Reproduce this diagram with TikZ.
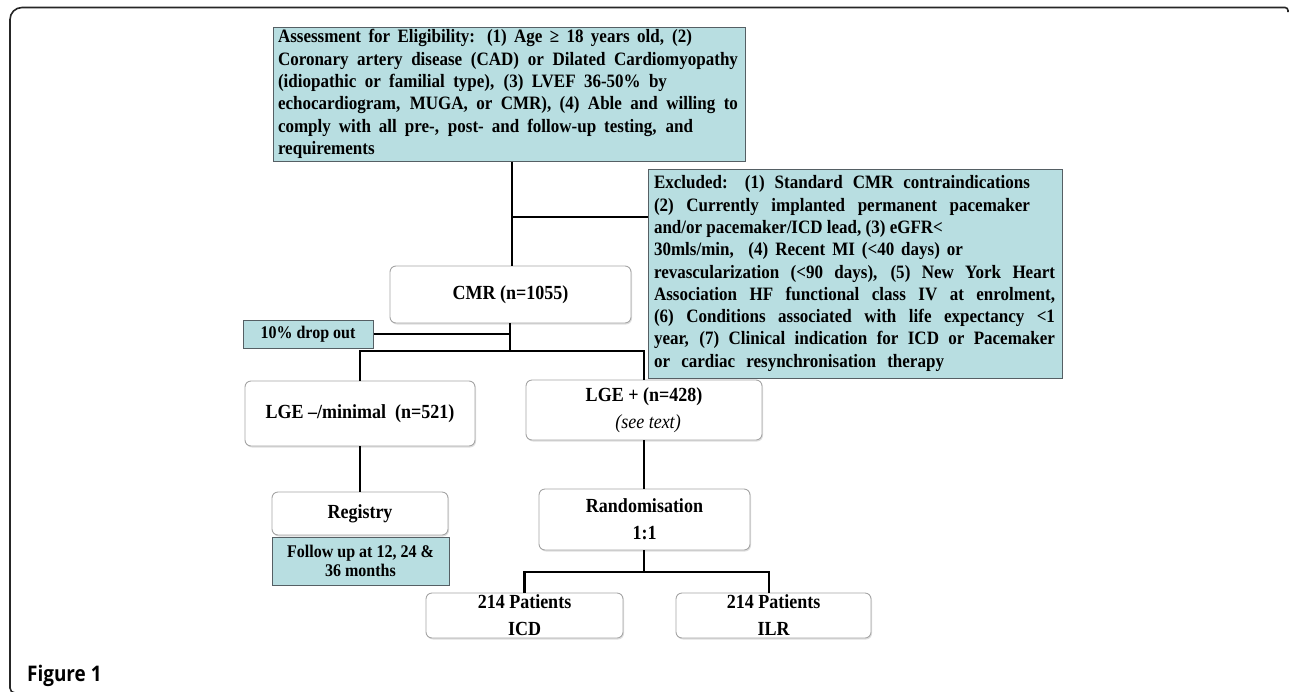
\documentclass[tikz,border=0pt]{standalone}
\usepackage{fontspec}
\setmainfont{Liberation Serif}[FakeStretch=0.9]
\newfontfamily\figfont{Open Sans}[FakeStretch=0.88]
\usetikzlibrary{shadows}
\definecolor{boxblue}{RGB}{184,222,225}
\definecolor{boxline}{RGB}{85,95,100}
\definecolor{wline}{RGB}{165,165,165}
\begin{document}
\begin{tikzpicture}[x=1pt,y=-1pt,
  bluebox/.style={draw=boxline, fill=boxblue, line width=1pt, inner sep=0pt,
    font=\bfseries\fontsize{18.9}{22.3}\selectfont},
  smallblue/.style={draw=boxline, fill=boxblue, line width=1pt, inner sep=0pt, align=center,
    font=\bfseries\fontsize{17.8}{19}\selectfont},
  whitebox/.style={draw=wline, fill=white, rounded corners=6pt, line width=0.9pt, inner sep=0pt,
    align=center, font=\bfseries\fontsize{20}{27}\selectfont,
    drop shadow={opacity=0.25, shadow xshift=1pt, shadow yshift=-1.5pt}},
  conn/.style={line width=2.6pt, black},
  frame/.style={line width=1.6pt, black!85}]
\useasboundingbox (0,0) rectangle (1290,691);

% outer frame
\draw[frame] (1288,12) [rounded corners=3pt] -- (1288,7.5) [rounded corners=12pt] -- (10,7.5) [rounded corners=5pt] -- (10,693) -- (22,693);

% boxes
\node[bluebox, minimum width=472pt, minimum height=134pt, text width=462pt, align=justify] (assess) at (509,94) {%
\makebox[414pt][s]{Assessment for Eligibility: (1) Age ≥ 18 years old, (2)}\\
\makebox[460pt][s]{Coronary artery disease (CAD) or Dilated Cardiomyopathy}\\
\makebox[389pt][s]{(idiopathic or familial type), (3) LVEF 36-50\% by}\\
\makebox[460pt][s]{echocardiogram, MUGA, or CMR), (4) Able and willing to}\\
\makebox[415pt][s]{comply with all pre-, post- and follow-up testing, and}\\
requirements};

\node[bluebox, minimum width=414pt, minimum height=209pt, text width=402pt, align=justify] (excl) at (855,273.5) {%
\makebox[376pt][s]{Excluded: (1) Standard CMR contraindications}\\
\makebox[376pt][s]{(2) Currently implanted permanent pacemaker}\\
and/or pacemaker/ICD lead, (3) eGFR<\\
\makebox[309pt][s]{30mls/min, \ (4) Recent MI (<40 days) or}\\
\makebox[401pt][s]{revascularization (<90 days), (5) New York Heart}\\
\makebox[401pt][s]{Association HF functional class IV at enrolment,}\\
\makebox[401pt][s]{(6) Conditions associated with life expectancy <1}\\
\makebox[401pt][s]{year, (7) Clinical indication for ICD or Pacemaker}\\
\makebox[290pt][s]{or cardiac resynchronisation therapy}};

\node[whitebox, minimum width=241pt, minimum height=57pt] (cmr) at (510.5,294.5) {CMR (n=1055)};
\node[smallblue, minimum width=130pt, minimum height=28pt] (drop) at (308,334) {10\% drop out};
\node[whitebox, minimum width=230pt, minimum height=65pt] (lgem) at (360,413.5) {LGE –/minimal\ \ (n=521)};
\node[whitebox, minimum width=236pt, minimum height=60pt] (lgep) at (644,410) {LGE + (n=428)\\ \hspace*{8pt}{\normalfont\itshape\fontsize{20}{27}\selectfont (see text)}};
\node[whitebox, minimum width=176pt, minimum height=43pt] (reg) at (360,513.5) {Registry};
\node[smallblue, minimum width=177pt, minimum height=48pt] (fu) at (360.5,561) {Follow up at 12, 24 \&\\ 36 months};
\node[whitebox, minimum width=211pt, minimum height=61pt] (rand) at (644.5,519.5) {Randomisation\\ 1:1};
\node[whitebox, minimum width=197pt, minimum height=45pt] (icd) at (524.5,615.5) {214 Patients\\ ICD};
\node[whitebox, minimum width=195pt, minimum height=45pt] (ilr) at (773.5,615.5) {214 Patients\\ ILR};

\node[anchor=base west, inner sep=0pt, font=\figfont\bfseries\fontsize{21.5}{24}\selectfont] (fig) at (27,681) {Figure 1};

% connectors
\coordinate (j1) at (512,217);
\coordinate (j2) at (510,334);
\coordinate (j3) at (510,351);
\coordinate (j4) at (644,572);
\coordinate (k) at (769,572);
\draw[conn] (assess.south -| j1) -- (cmr.north -| j1);
\draw[conn] (j1) -- (j1 -| excl.west);
\draw[conn] (cmr.south -| j3) -- (j3);
\draw[conn] (drop.east) -- (j2);
\draw[conn] (lgem.north) -- (lgem.north |- j3) -- (lgep.north |- j3) -- (lgep.north);
\draw[conn] (lgem.south) -- (reg.north);
\draw[conn] (lgep.south) -- (rand.north -| lgep.south);
\draw[conn] (rand.south -| j4) -- (j4);
\draw[conn] (icd.north) -- (icd.north |- j4) -- (k) -- (k |- ilr.north);
\end{tikzpicture}
\end{document}
